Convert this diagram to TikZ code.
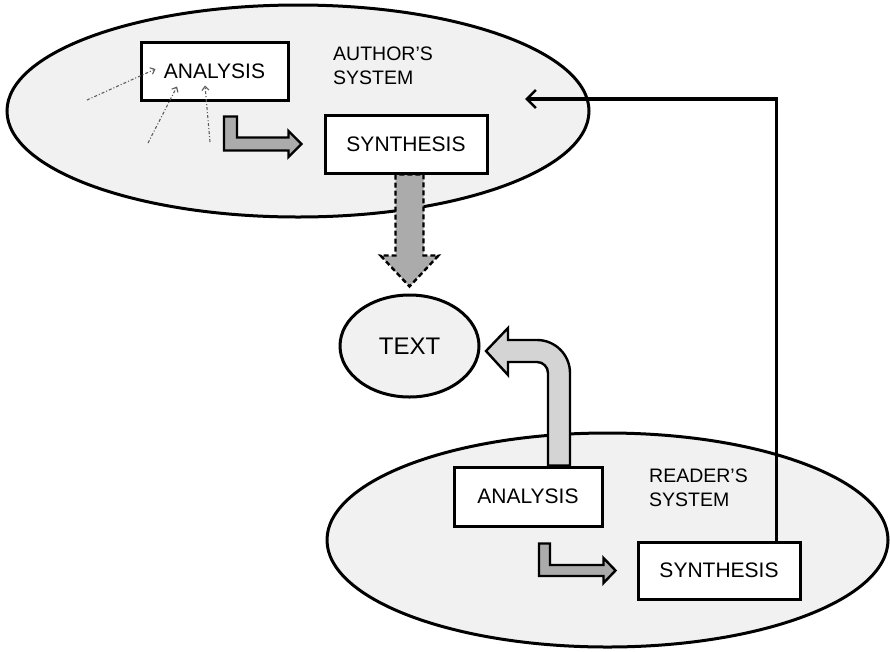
\documentclass[tikz,border=0pt]{standalone}
\usepackage{fontspec}
\setmainfont{Liberation Sans}
\usetikzlibrary{shapes.geometric,arrows.meta,calc}
\definecolor{sysfill}{HTML}{F1F1F1}
\definecolor{arrowgray}{HTML}{ABABAB}
\definecolor{lightarrow}{HTML}{D4D4D4}
\definecolor{hintgray}{HTML}{5E5E5E}
\pgfdeclarelayer{back}
\pgfdeclarelayer{mid}
\pgfsetlayers{back,mid,main}
\begin{document}
\begin{tikzpicture}[x=1pt,y=1pt,
  sysell/.style={ellipse, draw, line width=3pt, fill=sysfill, inner sep=0pt},
  procbox/.style={rectangle, draw, line width=3pt, fill=white, inner sep=0pt,
    font=\fontsize{21}{24}\selectfont},
  syslabel/.style={align=left, inner sep=0pt, font=\fontsize{19.5}{24}\selectfont},
  blockarrow/.style={draw, line width=2.4pt, fill=arrowgray, line join=miter},
  dashedarrow/.style={blockarrow, dash pattern=on 5pt off 3pt},
  bentarrow/.style={blockarrow, fill=lightarrow},
  hint/.style={draw=hintgray, line width=1.1pt, dash pattern=on 3pt off 2pt on 1pt off 2pt,
    -{Straight Barb[length=4pt,width=7pt]}},
  feedback/.style={line width=3.2pt, -{Straight Barb[length=9pt,width=18pt,line width=2.6pt]}}
]
\useasboundingbox (0,0) rectangle (890,-651);

% the two systems
\begin{pgfonlayer}{back}
\fill[white] (0,0) rectangle (890,-651);
\node[sysell, minimum width=582pt, minimum height=212pt] (auth) at (298,-111) {};
\node[sysell, minimum width=561pt, minimum height=214pt] (read) at (607.5,-540) {};
\end{pgfonlayer}

% the text between them
\node[sysell, minimum width=139pt, minimum height=102pt,
      font=\fontsize{24}{28}\selectfont] (text) at (409.5,-346) {TEXT};

\node[syslabel, anchor=north west] (authlbl) at (333,-47) {AUTHOR'S\\SYSTEM};
\node[syslabel, anchor=north west] (readlbl) at (649,-469) {READER'S\\SYSTEM};

% processing boxes
\node[procbox, minimum width=147pt, minimum height=58pt] (aana) at (214.5,-71) {ANALYSIS};
\node[procbox, minimum width=162pt, minimum height=58pt] (asyn) at (406,-144) {SYNTHESIS};
\node[procbox, minimum width=148pt, minimum height=59pt] (rana) at (528,-496.5) {ANALYSIS};
\node[procbox, minimum width=162pt, minimum height=57pt] (rsyn) at (719,-570.5) {SYNTHESIS};

% block arrows
\begin{pgfonlayer}{mid}
% author: analysis -> synthesis
\draw[blockarrow] let \p1=(aana.south), \p2=(asyn.west) in
  (\x1+9.5pt,\y1-15pt) -- (\x1+9.5pt,\y2-6.5pt) -- (\x2-35pt,\y2-6.5pt)
  -- (\x2-35pt,\y2-13pt) -- (\x2-22pt,\y2) -- (\x2-35pt,\y2+13pt)
  -- (\x2-35pt,\y2+6.5pt) -- (\x1+22.5pt,\y2+6.5pt) -- (\x1+22.5pt,\y1-15pt) -- cycle;
% author: synthesis -> text
\draw[dashedarrow] let \p1=(asyn.south -| text.north), \p2=($(text.north)+(0,7pt)$) in
  (\x1-14pt,\y1) -- (\x1-14pt,\y2+31pt) -- (\x1-29pt,\y2+31pt) -- (\x2,\y2)
  -- (\x1+29pt,\y2+31pt) -- (\x1+14pt,\y2+31pt) -- (\x1+14pt,\y1) -- cycle;
% reader: analysis of the text
\draw[bentarrow] let \p1=(rana.north), \p2=(text.east) in
  (\x1+20pt,\y1) -- (\x1+20pt,\y2-27pt) arc[start angle=0,end angle=90,radius=11pt]
  -- (\x2+27.5pt,\y2-16pt) -- (\x2+27.5pt,\y2-29pt) -- (\x2+5.5pt,\y2-5pt)
  -- (\x2+27.5pt,\y2+18pt) -- (\x2+27.5pt,\y2+6pt) -- (\x1+9pt,\y2+6pt)
  arc[start angle=90,end angle=0,radius=33pt] -- (\x1+42pt,\y1) -- cycle;
% reader: analysis -> synthesis
\draw[blockarrow] let \p1=(rana.south), \p2=(rsyn.west) in
  (\x1+11pt,\y1-16pt) -- (\x1+11pt,\y2-5.5pt) -- (\x2-33pt,\y2-5.5pt)
  -- (\x2-33pt,\y2-12.5pt) -- (\x2-21pt,\y2) -- (\x2-33pt,\y2+12.5pt)
  -- (\x2-33pt,\y2+5.5pt) -- (\x1+22pt,\y2+5.5pt) -- (\x1+22pt,\y1-16pt) -- cycle;
\end{pgfonlayer}

% feedback from the reader's synthesis to the author's system
\coordinate (fbend) at (525,-99);
\draw[feedback] ($(rsyn.north east)+(-25pt,0)$) |- (fbend);

% outside inputs to the author's analysis
\coordinate (h1) at (87,-100);
\coordinate (h2) at (148,-143);
\coordinate (h3) at (210,-142);
\draw[hint] (h1) -- ($(aana.west)+(16pt,2pt)$);
\draw[hint] (h2) -- ($(aana.south)+(-37.5pt,15pt)$);
\draw[hint] (h3) -- ($(aana.south)+(-9.5pt,16pt)$);
\end{tikzpicture}
\end{document}
